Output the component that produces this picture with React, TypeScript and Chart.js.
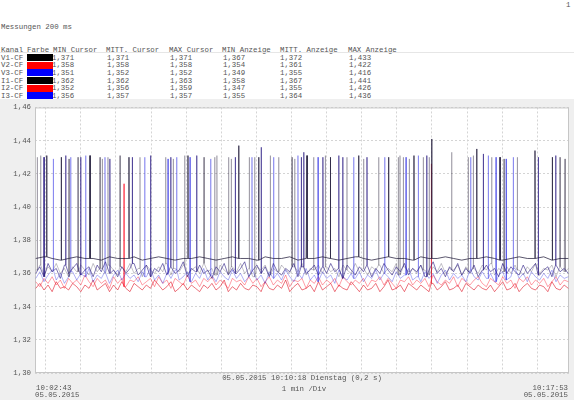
import React, { useEffect, useRef } from "react";
import { Chart, registerables } from "chart.js";

Chart.register(...registerables);

// ---------- table data ----------
const CHANNELS = ["V1-CF", "V2-CF", "V3-CF", "I1-CF", "I2-CF", "I3-CF"];
const SWATCHES = ["#000000", "#ff0000", "#0000ff", "#000000", "#ff0000", "#0000ff"];
const MIN_CURSOR = [1.371, 1.358, 1.351, 1.362, 1.352, 1.356];
const MITT_CURSOR = [1.371, 1.358, 1.352, 1.362, 1.356, 1.357];
const MAX_CURSOR = [1.371, 1.358, 1.352, 1.363, 1.359, 1.357];
const MIN_ANZEIGE = [1.367, 1.354, 1.349, 1.358, 1.347, 1.355];
const MITT_ANZEIGE = [1.372, 1.361, 1.355, 1.367, 1.355, 1.364];
const MAX_ANZEIGE = [1.433, 1.422, 1.416, 1.441, 1.426, 1.436];

// ---------- axis data ----------
const X_MIN_S = -1.3; // seconds after 10:02:43
const X_MAX_S = 911.2;
const MINUTE_TICKS_S = [17, 77, 137, 197, 257, 317, 377, 437, 497, 557, 617, 677, 737, 797, 857];
const Y_TICKS = [1.3, 1.32, 1.34, 1.36, 1.38, 1.4, 1.42, 1.44, 1.46];

const STEP_S = 7;
const V1_STEP_S = 14;

// ---------- series (baseline samples) ----------
const V1_BASE = [
  1.369, 1.370, 1.369, 1.368, 1.369, 1.370, 1.369, 1.369, 1.368, 1.370,
  1.369, 1.369, 1.370, 1.368, 1.369, 1.370, 1.369, 1.368, 1.369, 1.369,
  1.370, 1.369, 1.368, 1.369, 1.370, 1.369, 1.369, 1.368, 1.370, 1.369,
  1.369, 1.370, 1.368, 1.369, 1.369, 1.370, 1.369, 1.368, 1.369, 1.370,
  1.369, 1.368, 1.369, 1.370, 1.369, 1.369, 1.368, 1.370, 1.369, 1.369,
  1.370, 1.369, 1.368, 1.369, 1.369, 1.370, 1.369, 1.368, 1.369, 1.370,
  1.369, 1.369, 1.370, 1.368, 1.369, 1.369,
];
const I1_BASE = [
  1.362, 1.365, 1.359, 1.364, 1.361, 1.366, 1.360, 1.363, 1.358, 1.364,
  1.361, 1.365, 1.362, 1.359, 1.366, 1.361, 1.363, 1.360, 1.365, 1.362,
  1.359, 1.364, 1.361, 1.366, 1.360, 1.363, 1.358, 1.365, 1.362, 1.360,
  1.364, 1.361, 1.366, 1.359, 1.363, 1.361, 1.365, 1.360, 1.362, 1.364,
  1.360, 1.366, 1.361, 1.363, 1.359, 1.365, 1.362, 1.360, 1.364, 1.361,
  1.366, 1.360, 1.363, 1.358, 1.364, 1.362, 1.365, 1.359, 1.363, 1.361,
  1.365, 1.362, 1.360, 1.364, 1.361, 1.366, 1.359, 1.363, 1.362, 1.365,
  1.360, 1.364, 1.361, 1.363, 1.358, 1.365, 1.362, 1.360, 1.366, 1.361,
  1.363, 1.359, 1.364, 1.362, 1.365, 1.360, 1.363, 1.361, 1.366, 1.359,
  1.364, 1.361, 1.363, 1.360, 1.365, 1.362, 1.359, 1.364, 1.361, 1.366,
  1.360, 1.363, 1.362, 1.365, 1.359, 1.364, 1.361, 1.363, 1.360, 1.365,
  1.362, 1.366, 1.359, 1.363, 1.361, 1.364, 1.360, 1.365, 1.362, 1.359,
  1.364, 1.361, 1.366, 1.360, 1.363, 1.362, 1.365, 1.358, 1.364, 1.361,
  1.363,
];
const I3_BASE = [
  1.360, 1.364, 1.358, 1.366, 1.361, 1.363, 1.357, 1.365, 1.360, 1.363,
  1.366, 1.359, 1.362, 1.364, 1.358, 1.365, 1.361, 1.367, 1.360, 1.362,
  1.358, 1.364, 1.360, 1.363, 1.366, 1.359, 1.362, 1.365, 1.358, 1.363,
  1.361, 1.366, 1.359, 1.364, 1.360, 1.362, 1.367, 1.358, 1.363, 1.361,
  1.365, 1.360, 1.362, 1.357, 1.364, 1.361, 1.366, 1.359, 1.363, 1.360,
  1.363, 1.367, 1.358, 1.362, 1.365, 1.360, 1.364, 1.358, 1.366, 1.361,
  1.359, 1.363, 1.361, 1.366, 1.358, 1.364, 1.360, 1.362, 1.365, 1.359,
  1.364, 1.360, 1.366, 1.361, 1.363, 1.357, 1.365, 1.362, 1.359, 1.364,
  1.361, 1.365, 1.358, 1.363, 1.360, 1.366, 1.362, 1.359, 1.364, 1.361,
  1.366, 1.359, 1.363, 1.361, 1.365, 1.358, 1.362, 1.367, 1.360, 1.363,
  1.358, 1.364, 1.361, 1.366, 1.359, 1.363, 1.360, 1.365, 1.358, 1.362,
  1.365, 1.361, 1.363, 1.358, 1.366, 1.360, 1.364, 1.361, 1.359, 1.365,
  1.360, 1.363, 1.366, 1.359, 1.362, 1.364, 1.358, 1.365, 1.361, 1.363,
  1.360,
];
const V3_BASE = [
  1.357, 1.361, 1.355, 1.359, 1.362, 1.356, 1.360, 1.354, 1.358, 1.361,
  1.356, 1.360, 1.358, 1.363, 1.355, 1.359, 1.357, 1.361, 1.354, 1.359,
  1.362, 1.356, 1.360, 1.357, 1.359, 1.355, 1.361, 1.358, 1.363, 1.356,
  1.359, 1.354, 1.360, 1.357, 1.362, 1.356, 1.358, 1.361, 1.355, 1.360,
  1.357, 1.363, 1.356, 1.359, 1.355, 1.361, 1.358, 1.356, 1.362, 1.357,
  1.360, 1.355, 1.358, 1.362, 1.356, 1.359, 1.354, 1.361, 1.357, 1.360,
  1.356, 1.362, 1.358, 1.355, 1.360, 1.357, 1.363, 1.356, 1.359, 1.355,
  1.361, 1.357, 1.359, 1.354, 1.362, 1.358, 1.356, 1.360, 1.357, 1.361,
  1.355, 1.359, 1.357, 1.362, 1.356, 1.360, 1.358, 1.355, 1.361, 1.357,
  1.359, 1.363, 1.356, 1.358, 1.355, 1.361, 1.357, 1.360, 1.354, 1.359,
  1.362, 1.356, 1.360, 1.357, 1.359, 1.355, 1.362, 1.358, 1.356, 1.361,
  1.357, 1.360, 1.355, 1.359, 1.361, 1.356, 1.358, 1.363, 1.357, 1.360,
  1.355, 1.361, 1.358, 1.356, 1.360, 1.357, 1.362, 1.355, 1.359, 1.357,
  1.358,
];
const V2_BASE = [
  1.355, 1.352, 1.357, 1.354, 1.358, 1.353, 1.356, 1.351, 1.357, 1.354,
  1.356, 1.353, 1.359, 1.355, 1.352, 1.357, 1.354, 1.356, 1.351, 1.358,
  1.354, 1.357, 1.352, 1.356, 1.355, 1.358, 1.353, 1.355, 1.357, 1.352,
  1.358, 1.354, 1.356, 1.351, 1.357, 1.355, 1.353, 1.359, 1.354, 1.356,
  1.352, 1.357, 1.355, 1.358, 1.353, 1.356, 1.354, 1.351, 1.357, 1.355,
  1.356, 1.353, 1.358, 1.354, 1.357, 1.352, 1.355, 1.358, 1.353, 1.356,
  1.354, 1.359, 1.352, 1.356, 1.355, 1.357, 1.351, 1.356, 1.354, 1.358,
  1.353, 1.356, 1.354, 1.357, 1.352, 1.358, 1.355, 1.353, 1.356, 1.354,
  1.357, 1.352, 1.356, 1.355, 1.358, 1.353, 1.357, 1.354, 1.351, 1.356,
  1.355, 1.358, 1.353, 1.356, 1.354, 1.357, 1.352, 1.359, 1.355, 1.353,
  1.356, 1.354, 1.358, 1.352, 1.357, 1.355, 1.353, 1.356, 1.358, 1.354,
  1.352, 1.357, 1.355, 1.353, 1.358, 1.354, 1.356, 1.351, 1.357, 1.355,
  1.358, 1.353, 1.356, 1.354, 1.357, 1.352, 1.355, 1.358, 1.353, 1.356,
  1.355,
];
const I2_BASE = [
  1.351, 1.354, 1.350, 1.353, 1.349, 1.355, 1.351, 1.352, 1.350, 1.354,
  1.352, 1.349, 1.353, 1.351, 1.356, 1.350, 1.352, 1.354, 1.349, 1.353,
  1.350, 1.355, 1.351, 1.349, 1.354, 1.352, 1.350, 1.353, 1.351, 1.356,
  1.353, 1.350, 1.352, 1.355, 1.349, 1.351, 1.354, 1.350, 1.353, 1.351,
  1.349, 1.353, 1.351, 1.354, 1.350, 1.352, 1.356, 1.349, 1.352, 1.350,
  1.354, 1.351, 1.350, 1.353, 1.352, 1.349, 1.355, 1.351, 1.350, 1.353,
  1.351, 1.356, 1.349, 1.352, 1.354, 1.350, 1.351, 1.353, 1.349, 1.355,
  1.350, 1.352, 1.354, 1.349, 1.353, 1.351, 1.350, 1.355, 1.352, 1.349,
  1.353, 1.350, 1.351, 1.354, 1.349, 1.352, 1.356, 1.350, 1.351, 1.353,
  1.349, 1.354, 1.352, 1.350, 1.353, 1.351, 1.349, 1.354, 1.350, 1.352,
  1.355, 1.350, 1.351, 1.353, 1.349, 1.354, 1.352, 1.350, 1.353, 1.351,
  1.350, 1.353, 1.349, 1.352, 1.355, 1.350, 1.351, 1.354, 1.349, 1.352,
  1.354, 1.351, 1.350, 1.353, 1.352, 1.349, 1.355, 1.351, 1.350, 1.353,
  1.351,
];

// ---------- spikes: [seconds after 10:02:43, peak value] ----------
const V1_SPIKES: [number, number][] = [
  [18.7, 1.431], [43.6, 1.430], [92.7, 1.431], [159.3, 1.430], [260.1, 1.431], [346.8, 1.437],
  [381.0, 1.430], [463.5, 1.431], [503.3, 1.430], [551.8, 1.431], [603.1, 1.430], [646.3, 1.431],
  [676.6, 1.441], [753.5, 1.435], [793.3, 1.430], [853.1, 1.434], [882.7, 1.430],
];
const I3_SPIKES: [number, number][] = [
  [14.1, 1.430], [51.2, 1.431], [76.8, 1.430], [126.8, 1.429], [165.0, 1.430], [196.4, 1.431],
  [230.6, 1.430], [275.0, 1.431], [341.0, 1.430], [385.4, 1.436], [453.8, 1.430], [457.9, 1.433],
  [490.8, 1.430], [517.7, 1.431], [524.5, 1.430], [566.0, 1.430], [668.1, 1.431], [764.8, 1.432],
  [858.8, 1.430], [888.5, 1.431],
];
const V3_SPIKES: [number, number][] = [
  [30.0, 1.429], [59.7, 1.430], [85.3, 1.431], [118.3, 1.430], [186.2, 1.430], [226.0, 1.429],
  [240.8, 1.430], [263.6, 1.430], [298.9, 1.429], [369.5, 1.430], [406.6, 1.430], [448.1, 1.431],
  [482.3, 1.430], [543.3, 1.430], [596.3, 1.430], [632.7, 1.430], [653.7, 1.431], [743.2, 1.430],
  [773.3, 1.431], [786.5, 1.430], [803.6, 1.429], [816.0, 1.430],
];
const I1_SPIKES: [number, number][] = [
  [2.6, 1.430], [8.4, 1.431], [56.8, 1.429], [72.2, 1.430], [109.8, 1.430], [113.7, 1.429],
  [123.4, 1.430], [144.0, 1.431], [178.1, 1.430], [222.0, 1.430], [235.0, 1.429], [254.5, 1.431],
  [287.5, 1.430], [305.8, 1.430], [309.7, 1.431], [329.7, 1.430], [334.1, 1.429], [364.9, 1.430],
  [374.1, 1.430], [400.8, 1.431], [415.1, 1.430], [437.9, 1.430], [442.5, 1.429], [474.9, 1.430],
  [494.8, 1.431], [531.8, 1.430], [560.4, 1.429], [586.0, 1.430], [619.5, 1.430], [622.4, 1.431],
  [628.1, 1.430], [638.3, 1.429], [662.2, 1.430], [672.5, 1.430], [710.7, 1.433], [739.1, 1.430],
  [747.7, 1.431], [779.1, 1.430], [800.2, 1.429], [822.9, 1.430], [895.9, 1.430], [904.4, 1.429],
];
const V2_SPIKES: [number, number][] = [[150.8, 1.414]];
const I2_SPIKES: [number, number][] = [[676.0, 1.426]];

const MONO = "'Liberation Mono', 'DejaVu Sans Mono', monospace";
const FONT_PX = 7.4;
const TEXT_COLOR = "#555555";

function buildSeries(base: number[], step: number, spikes: [number, number][]) {
  const pts = base.map((y, i) => ({ x: i * step, y }));
  for (const [t, peak] of spikes) {
    const i = Math.min(base.length - 1, Math.round(t / step));
    const b = base[i];
    pts.push({ x: t - 0.3, y: b }, { x: t, y: peak }, { x: t + 0.3, y: b });
  }
  pts.sort((a, b) => a.x - b.x);
  return pts;
}

const fmt = (v: number) => v.toFixed(3).replace(".", ",");

function Txt(props: { x: number; y: number; text: string; align?: "left" | "right" | "center" }) {
  const { x, y, text, align = "left" } = props;
  const style: React.CSSProperties = {
    position: "absolute",
    top: y - 5,
    height: 10,
    lineHeight: "10px",
    fontFamily: MONO,
    fontSize: FONT_PX,
    color: TEXT_COLOR,
    whiteSpace: "pre",
  };
  if (align === "left") style.left = x;
  else if (align === "right") style.right = 574 - x;
  else {
    style.left = x - 150;
    style.width = 300;
    style.textAlign = "center";
  }
  return <div style={style}>{text}</div>;
}

export default function App() {
  const canvasRef = useRef<HTMLCanvasElement | null>(null);

  useEffect(() => {
    const canvas = canvasRef.current;
    if (!canvas) return;

    const bgPlugin = {
      id: "plotBg",
      beforeDraw(chart: any) {
        const { ctx, chartArea } = chart;
        ctx.save();
        ctx.fillStyle = "#ffffff";
        ctx.fillRect(chartArea.left, chartArea.top, chartArea.right - chartArea.left, chartArea.bottom - chartArea.top);
        ctx.restore();
      },
      beforeDatasetsDraw(chart: any) {
        const { ctx, chartArea } = chart;
        ctx.save();
        ctx.strokeStyle = "#c6c6c6";
        ctx.lineWidth = 1;
        ctx.strokeRect(chartArea.left + 0.5, chartArea.top + 0.5, chartArea.right - chartArea.left - 1, chartArea.bottom - chartArea.top - 1);
        ctx.restore();
      },
    };

    const gridCommon = { color: "#d4d4d4", drawTicks: false, lineWidth: 1 };
    const borderCommon = { display: false, dash: [2, 2] };

    const chart = new Chart(canvas, {
      type: "line",
      data: {
        datasets: [
          { label: "V1-CF", data: buildSeries(V1_BASE, V1_STEP_S, V1_SPIKES), borderColor: "rgba(35,30,60,0.75)" },
          { label: "I3-CF", data: buildSeries(I3_BASE, STEP_S, I3_SPIKES), borderColor: "rgba(40,25,130,0.6)" },
          { label: "V3-CF", data: buildSeries(V3_BASE, STEP_S, V3_SPIKES), borderColor: "rgba(50,50,230,0.38)" },
          { label: "I1-CF", data: buildSeries(I1_BASE, STEP_S, I1_SPIKES), borderColor: "rgba(20,10,40,0.25)" },
          { label: "V2-CF", data: buildSeries(V2_BASE, STEP_S, V2_SPIKES), borderColor: "rgba(255,40,60,0.45)" },
          { label: "I2-CF", data: buildSeries(I2_BASE, STEP_S, I2_SPIKES), borderColor: "rgba(220,0,20,0.55)" },
        ] as any,
      },
      options: {
        animation: false,
        responsive: false,
        maintainAspectRatio: false,
        layout: { padding: { top: 5, right: 5, left: 0, bottom: 0 } },
        plugins: { legend: { display: false }, tooltip: { enabled: false } },
        elements: { point: { radius: 0 }, line: { borderWidth: 1, tension: 0 } },
        scales: {
          x: {
            type: "linear",
            min: X_MIN_S,
            max: X_MAX_S,
            afterBuildTicks: (s: any) => {
              s.ticks = MINUTE_TICKS_S.map((v) => ({ value: v }));
            },
            afterFit: (s: any) => {
              s.height = 27;
            },
            ticks: { display: false },
            grid: gridCommon,
            border: borderCommon,
          },
          y: {
            type: "linear",
            min: 1.3,
            max: 1.46,
            afterBuildTicks: (s: any) => {
              s.ticks = Y_TICKS.map((v) => ({ value: v }));
            },
            afterFit: (s: any) => {
              s.width = 35;
            },
            ticks: {
              callback: (v: any) => Number(v).toFixed(2).replace(".", ","),
              font: { family: MONO, size: FONT_PX },
              color: TEXT_COLOR,
              padding: 4,
            },
            grid: gridCommon,
            border: borderCommon,
          },
        },
      } as any,
      plugins: [bgPlugin],
    });
    return () => chart.destroy();
  }, []);

  const headerCols: [string, number][] = [
    ["Kanal", 1], ["Farbe", 27], ["MIN Cursor", 53], ["MITT. Cursor", 106], ["MAX Cursor", 169],
    ["MIN Anzeige", 222], ["MITT. Anzeige", 280], ["MAX Anzeige", 348],
  ];
  const rowY = [57.5, 65.2, 72.8, 80.5, 88.2, 95.8];
  const valueCols: [number[], number][] = [
    [MIN_CURSOR, 52], [MITT_CURSOR, 107], [MAX_CURSOR, 170], [MIN_ANZEIGE, 223], [MITT_ANZEIGE, 280], [MAX_ANZEIGE, 349],
  ];

  return (
    <div style={{ position: "fixed", left: 0, top: 0, width: 574, height: 400, background: "#fff", overflow: "hidden" }}>
      <Txt x={566} y={5} text="1" />
      <Txt x={1} y={26.5} text="Messungen 200 ms" />
      {headerCols.map(([t, x]) => (
        <Txt key={t} x={x} y={49.5} text={t} />
      ))}
      <div style={{ position: "absolute", left: 0, top: 52, width: 574, height: 1, background: "#e6e6e6" }} />
      {CHANNELS.map((ch, i) => (
        <React.Fragment key={ch}>
          <Txt x={1} y={rowY[i]} text={ch} />
          {valueCols.map(([arr, x], j) => (
            <Txt key={j} x={x} y={rowY[i]} text={fmt(arr[i])} />
          ))}
          <div
            style={{
              position: "absolute",
              left: 27,
              top: rowY[i] - 3.5,
              width: 26,
              height: 7,
              background: SWATCHES[i],
            }}
          />
        </React.Fragment>
      ))}
      <div style={{ position: "absolute", left: 0, top: 99, width: 574, height: 301, background: "#efefef" }}>
        <canvas ref={canvasRef} width={574} height={301} style={{ display: "block", width: 574, height: 301 }} />
      </div>
      <Txt x={302} y={377.5} text="05.05.2015 10:10:18 Dienstag (0,2 s)" align="center" />
      <Txt x={304} y={388.5} text="1 min /Div" align="center" />
      <Txt x={36} y={388} text="10:02:43" />
      <Txt x={35} y={395} text="05.05.2015" />
      <Txt x={568} y={388} text="10:17:53" align="right" />
      <Txt x={568} y={395} text="05.05.2015" align="right" />
    </div>
  );
}
